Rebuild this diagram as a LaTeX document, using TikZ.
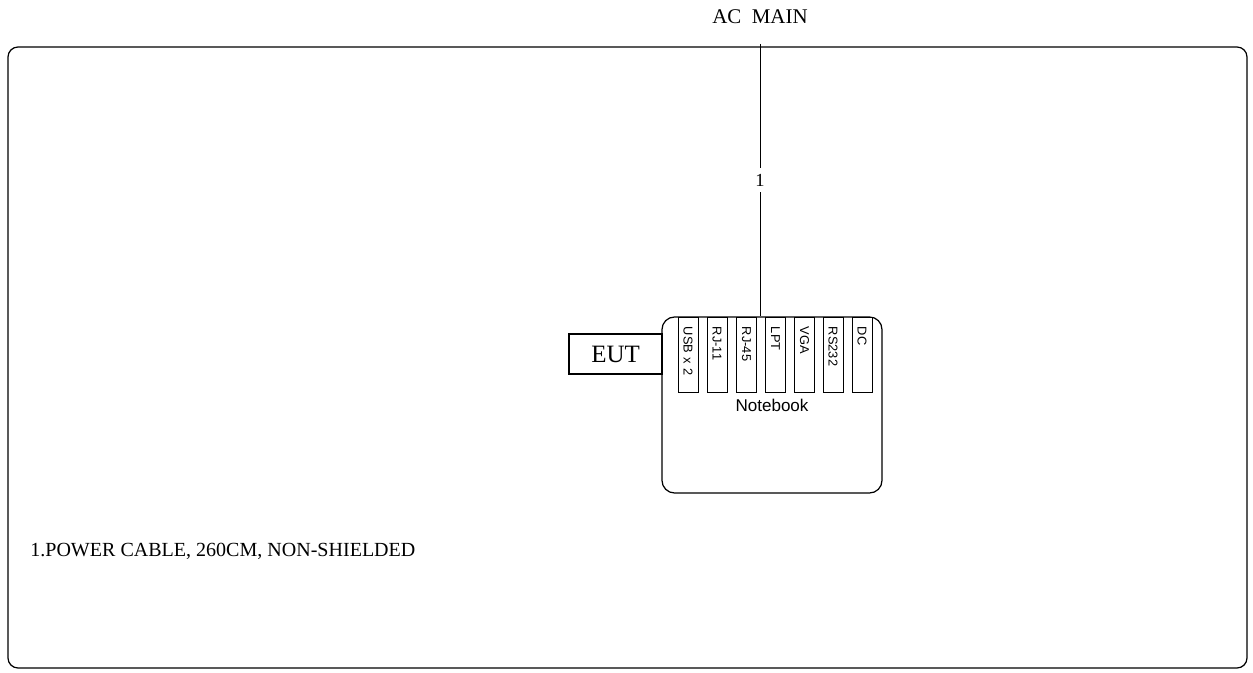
\documentclass[tikz,border=0pt]{standalone}
\usepackage{fontspec}
\setmainfont{Liberation Serif}
\setsansfont{Liberation Sans}
\usepackage{tikz}
\usetikzlibrary{positioning}

\begin{document}
\begin{tikzpicture}[
    frame/.style={draw, rounded corners=0.2cm, line width=0.7pt},
    notebook/.style={draw, rounded corners=0.25cm, line width=0.7pt, minimum width=4.4cm, minimum height=3.52cm, font=\sffamily\fontsize{9.7}{11}\selectfont},
    eutbox/.style={draw, line width=0.7pt, minimum width=1.86cm, minimum height=0.8cm, font=\fontsize{14.2}{16}\selectfont},
    port/.style={draw, fill=white, line width=0.5pt, rotate=-90, minimum height=0.4cm, text width=1.1cm, inner xsep=0.2cm, inner ysep=0.02cm, align=left, font=\sffamily\fontsize{7.3}{8}\selectfont},
    cable/.style={line width=0.5pt},
    caption/.style={font=\fontsize{11.9}{14}\selectfont, inner sep=0pt}
]
\useasboundingbox (0,0) rectangle (25.06,13.46);

% Frame
\draw[frame] (0.16,0.10) rectangle (24.94,12.52);

% Units
\node[notebook] (notebook) at (15.44,5.36) {Notebook};
\node[eutbox] (eut) at (12.31,6.38) {EUT};

% Ports
\node[port] (usb) at (13.76,6.37) {USB x 2};
\node[port] (rj11) at (14.34,6.37) {RJ-11};
\node[port] (rj45) at (14.93,6.37) {RJ-45};
\node[port] (lpt) at (15.51,6.37) {LPT};
\node[port] (vga) at (16.09,6.37) {VGA};
\node[port] (rs232) at (16.66,6.37) {RS232};
\node[port] (dc) at (17.24,6.37) {DC};

% Power
\node[caption, anchor=base] (acmain) at (15.2,12.99) {AC\ \ MAIN};
\coordinate (acin) at (15.2,12.58);
\draw[cable] (acin) -- node[fill=white, inner sep=3.5pt, font=\fontsize{10.5}{12}\selectfont] (cab1) {1} (acin |- notebook.north);

% Legend
\node[caption, anchor=base west, font=\fontsize{11.4}{14}\selectfont] (legend) at (0.6,2.32) {1.POWER CABLE, 260CM, NON-SHIELDED};

\end{tikzpicture}
\end{document}
